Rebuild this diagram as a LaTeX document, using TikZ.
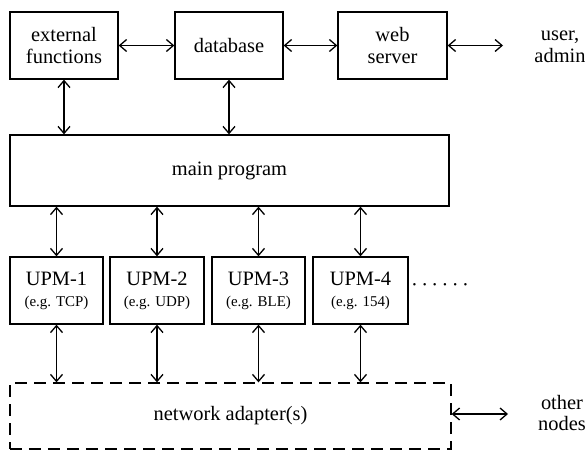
\documentclass[tikz,border=0pt]{standalone}
\usepackage{fontspec}
\setmainfont{Liberation Serif}
\usetikzlibrary{arrows.meta}
\newcommand\upmsub{\fontsize{15}{17}\selectfont}
\begin{document}
\begin{tikzpicture}[x=1bp,y=-1bp,
  every node/.style={font=\fontsize{20.5}{22}\selectfont, align=center, inner sep=0pt},
  box/.style={draw, line width=1.3bp, rectangle},
  dbox/.style={draw, line width=1.3bp, rectangle, dash pattern=on 12bp off 7bp},
  link/.style={line width=1.3bp, {Straight Barb[length=7bp,width=12bp]}-{Straight Barb[length=7bp,width=12bp]}}
]
\useasboundingbox (0,0) rectangle (585,451);
\node[box, minimum width=108bp, minimum height=67bp] (ext) at (64,45.5) {external\\functions};
\node[box, minimum width=108bp, minimum height=67bp] (db) at (229,45.5) {database};
\node[box, minimum width=109bp, minimum height=67bp] (web) at (392.5,45.5) {web\\server};
\node (user) at (560,47) {user,\\admin};
\node[box, minimum width=439bp, minimum height=71bp] (main) at (229.5,170.5) {main program};
\node[box, minimum width=93bp, minimum height=67bp] (u1) at (56.5,290.5) {UPM-1\\[-1bp]{\upmsub (e.g. TCP)}};
\node[box, minimum width=94bp, minimum height=67bp] (u2) at (157,290.5) {UPM-2\\[-1bp]{\upmsub (e.g. UDP)}};
\node[box, minimum width=93bp, minimum height=67bp] (u3) at (258.5,290.5) {UPM-3\\[-1bp]{\upmsub (e.g. BLE)}};
\node[box, minimum width=95bp, minimum height=67bp] (u4) at (360.5,290.5) {UPM-4\\[-1bp]{\upmsub (e.g. 154)}};
\node (dots) at (440,288) {\textperiodcentered\,\textperiodcentered\,\textperiodcentered\,\textperiodcentered\,\textperiodcentered\,\textperiodcentered};
\node[dbox, minimum width=441bp, minimum height=66bp] (net) at (230.5,416) {network adapter(s)};
\node (other) at (562,413) {other\\nodes};
\coordinate (userend) at (503,45.5);
\coordinate (otherend) at (508,414);
\draw[link] (ext) -- (db);
\draw[link] (db) -- (web);
\draw[link] (web.east) -- (userend);
\draw[link] (ext) -- (ext |- main.north);
\draw[link] (db) -- (db |- main.north);
\draw[link] (main.south -| u1) -- (u1);
\draw[link] (main.south -| u2) -- (u2);
\draw[link] (main.south -| u3) -- (u3);
\draw[link] (main.south -| u4) -- (u4);
\draw[link] (u1) -- (u1 |- net.north);
\draw[link] (u2) -- (u2 |- net.north);
\draw[link] (u3) -- (u3 |- net.north);
\draw[link] (u4) -- (u4 |- net.north);
\draw[link] (net.east |- otherend) -- (otherend);
\end{tikzpicture}
\end{document}
